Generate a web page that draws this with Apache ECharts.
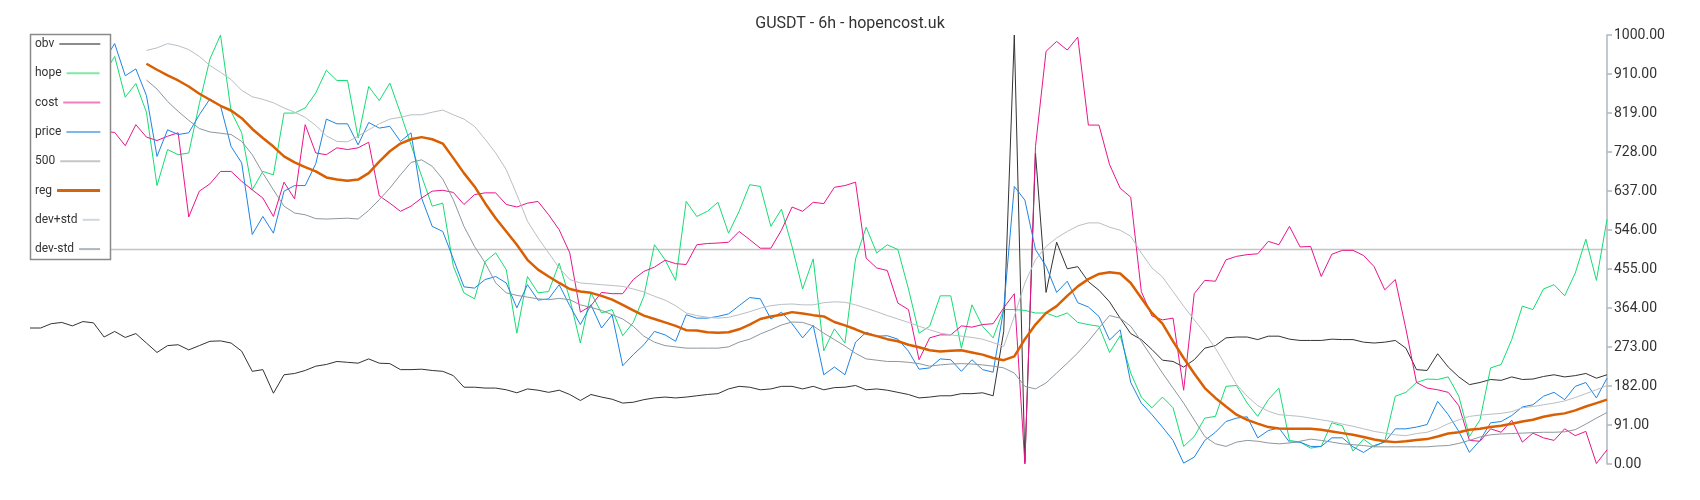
<!DOCTYPE html>
<html><head><meta charset="utf-8">
<script src="https://cdn.jsdelivr.net/npm/echarts@6/dist/echarts.min.js"></script>
<style>html,body{margin:0;padding:0;background:#fff}#c{width:1700px;height:500px}</style>
</head><body><div id="c"></div>
<script>
const N = 150;
const categories = Array.from({length: N}, (_, i) => i);

const obv = [317,317,327,330,322,332,329,296,309,295,304,282,260,276,278,266,276,286,287,282,263,216,220,165,208,211,
218,228,232,239,237,235,245,235,234,220,220,221,218,216,206,179,179,177,177,173,166,175,172,167,172,162,
148,162,156,151,142,144,150,154,156,154,156,159,162,164,175,181,179,173,175,181,181,175,181,173,178,
179,183,173,175,172,167,162,154,156,159,159,164,164,166,159,309,1000,4,725,400,517,455,460,425,405,378,
340,304,290,267,242,239,226,243,270,276,294,296,296,290,298,298,291,288,288,288,291,290,290,284,282,
284,288,270,220,218,257,226,203,185,190,197,195,203,197,198,204,208,203,206,211,200,208];

const hope = [880,860,900,870,840,880,900,910,950,855,887,820,649,733,721,725,840,944,1000,822,772,639,682,674,818,818,
830,865,918,894,894,760,880,847,888,818,744,671,601,608,461,399,385,472,492,453,305,437,399,402,468,385,
282,399,352,360,299,330,391,511,476,428,612,577,589,610,538,589,651,647,554,594,507,408,478,264,315,
282,478,552,492,511,500,408,305,321,392,392,270,371,321,294,360,360,358,352,352,343,352,330,325,321,260,
299,212,156,131,156,131,41,64,107,111,181,183,142,111,150,177,55,51,37,41,96,89,30,58,40,
53,158,167,190,198,197,203,158,64,103,224,232,290,368,360,408,418,392,445,524,428,570];

const cost = [760,770,750,770,780,760,770,775,773,742,791,762,754,764,772,576,636,653,682,682,659,639,620,577,657,618,
791,725,721,737,733,737,750,625,608,589,601,620,636,638,633,605,628,632,632,605,599,608,612,581,546,492,
354,369,400,397,397,430,449,459,475,467,465,511,514,515,517,542,523,503,503,545,599,589,610,607,645,
649,657,480,457,451,375,360,243,294,301,301,322,319,325,327,364,397,0,740,962,985,965,995,790,790,698,
643,622,402,345,336,340,172,397,428,426,476,484,488,490,519,511,554,506,507,437,489,498,498,486,460,
406,430,315,190,177,173,167,136,55,53,82,74,102,51,72,61,55,82,66,76,1,33];

const price = [900,880,920,890,870,900,930,940,980,905,921,859,717,779,768,772,814,851,835,740,702,535,577,538,636,649,
649,700,804,793,793,744,796,783,787,752,772,620,554,542,478,413,410,430,437,422,364,418,382,385,418,369,
325,371,317,348,229,255,278,309,301,286,348,340,340,344,350,369,388,385,338,354,327,294,323,208,226,
208,284,307,298,299,291,263,221,224,245,243,216,243,220,214,361,647,615,500,461,400,426,376,366,344,289,
313,190,142,115,86,55,2,16,55,74,99,107,110,61,78,84,51,51,41,41,61,61,40,27,43,
51,82,82,86,92,146,115,76,27,55,96,99,113,133,138,158,167,150,181,190,154,200];

const LEVEL_500 = 500;

const reg = [null,null,null,null,null,null,null,null,null,null,null,
933,919,906,894,880,863,849,835,824,806,781,760,740,717,703,
692,682,668,663,660,663,678,705,729,747,757,762,757,747,713,678,647,608,573,542,511,476,453,437,422,408,
402,399,392,383,371,358,346,338,330,322,312,311,307,306,307,314,325,338,344,348,354,351,347,344,331,
323,314,304,298,291,286,278,272,265,262,264,265,260,255,247,242,251,291,325,352,368,392,414,431,443,447,
444,422,387,352,327,286,247,211,177,154,134,115,103,94,86,83,82,82,82,80,76,72,68,63,57,
53,51,53,56,58,64,71,74,80,82,86,89,94,99,103,110,115,118,125,134,142,150];

const devPlus = [null,null,null,null,null,null,null,null,null,null,null,
964,970,980,975,966,950,929,913,896,871,856,850,842,830,820,
808,789,765,752,751,764,779,793,804,808,814,814,820,825,814,804,787,757,725,686,628,566,527,492,457,430,
422,420,418,416,414,408,401,391,382,369,352,346,342,340,342,348,355,363,369,372,373,371,371,376,378,
377,371,363,355,346,338,330,321,313,305,301,298,295,291,283,274,344,422,476,507,527,542,555,562,562,552,
545,531,492,457,436,402,368,336,305,270,228,185,158,136,123,115,113,111,107,103,99,93,88,82,76,
72,68,66,71,74,82,94,103,111,114,116,118,122,131,134,138,142,147,155,164,173,183];

const devMinus = [null,null,null,null,null,null,null,null,null,null,null,
895,874,845,822,801,782,774,771,768,752,721,678,639,601,585,
581,572,571,572,573,571,591,616,643,674,703,709,694,664,616,554,507,469,422,399,393,389,385,383,386,383,
371,365,358,348,338,321,298,284,276,273,270,270,270,270,273,284,291,303,313,324,331,330,322,305,290,
275,258,245,242,239,239,237,234,228,231,233,234,233,231,228,224,212,181,175,189,212,235,259,286,317,346,
340,321,286,249,212,177,142,103,64,47,41,51,55,53,49,47,49,53,58,55,51,47,45,43,40,
40,40,40,40,40,42,43,48,55,63,68,70,71,72,73,74,74,75,80,93,107,120];

const yTickLabels = ['0.00','91.00','182.00','273.00','364.00','455.00','546.00','637.00','728.00','819.00','910.00','1000.00'];

const legendNames = ['obv','hope','cost','price','500','reg','dev+std','dev-std'];
const seriesColors = ['#333333','#15dc72','#e8158a','#1e84e4','#c4c4c4','#d95f02','#b9bfc4','#8d979f'];
const legendColors = ['#8c8c8c','#7fe8a6','#f27fbd','#7db8ec','#c6c6c6','#d4640d','#d2d7db','#aeb6bc'];

const ctx = document.createElement('canvas').getContext('2d');
ctx.font = '12px Roboto';
const legends = legendNames.map((n, k) => {
  const tw = ctx.measureText(n).width;
  const c = legendColors[k];
  return {
    left: 35, top: 45 + k * 29.3 - 7,
    orient: 'vertical', align: 'right', padding: 0, itemGap: 0,
    icon: 'rect',
    itemWidth: Math.max(10, Math.round(60 - tw)), itemHeight: n === 'reg' ? 3 : 2,
    itemStyle: {color: c, borderWidth: 0},
    lineStyle: {color: c, width: 0},
    textStyle: {fontSize: 12, color: '#333', fontFamily: 'Roboto'},
    data: [{name: n, icon: 'rect', itemStyle: {color: c, borderWidth: 0}, lineStyle: {color: c, width: 0}}],
    z: 6
  };
});

function mk(name, data, color, width, z) {
  return {name, type: 'line', data, symbol: 'none', showSymbol: false,
    lineStyle: {color, width}, itemStyle: {color}, z: z || 2,
    connectNulls: false, animation: false, emphasis: {disabled: true}};
}

const chart = echarts.init(document.getElementById('c'));
chart.setOption({
  animation: false,
  backgroundColor: '#fff',
  title: {text: 'GUSDT - 6h - hopencost.uk', left: 'center', top: 11,
    textStyle: {fontSize: 16, fontWeight: 'normal', color: '#333', fontFamily: 'Roboto'}},
  legend: legends,
  graphic: [{type: 'rect', z: 5, shape: {x: 30.5, y: 34.5, width: 80, height: 225},
    style: {fill: '#fff', stroke: '#8a8a8a', lineWidth: 1.5}}],
  grid: {left: 30, right: 93, top: 35, bottom: 36, containLabel: false},
  xAxis: {type: 'category', data: categories, boundaryGap: false, show: false},
  yAxis: {type: 'value', position: 'right', min: 0, max: 1000, interval: 1000 / 11,
    axisLine: {show: true, lineStyle: {color: '#b0b7bd', width: 1.5}},
    axisTick: {show: true, length: 5, lineStyle: {color: '#b0b7bd', width: 1.5}},
    splitLine: {show: false},
    axisLabel: {fontSize: 14, color: '#333', fontFamily: 'Roboto', margin: 7,
      formatter: (v, i) => yTickLabels[i]}},
  series: [
    mk('obv', obv, seriesColors[0], 1),
    mk('hope', hope, seriesColors[1], 1),
    mk('cost', cost, seriesColors[2], 1),
    mk('price', price, seriesColors[3], 1),
    mk('500', categories.map(() => LEVEL_500), seriesColors[4], 1.5, 1),
    mk('reg', reg, seriesColors[5], 2.5),
    mk('dev+std', devPlus, seriesColors[6], 1),
    mk('dev-std', devMinus, seriesColors[7], 1)
  ]
});
</script>
</body></html>
